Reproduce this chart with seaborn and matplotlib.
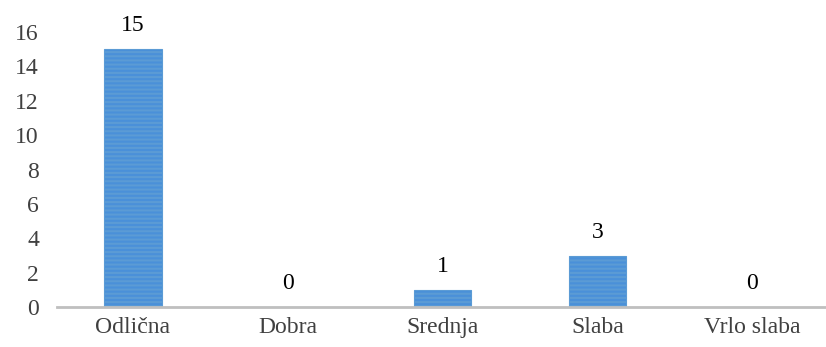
import matplotlib
matplotlib.use("Agg")
import matplotlib.pyplot as plt
import seaborn as sns
import pandas as pd

categories = ["Odlična", "Dobra", "Srednja", "Slaba", "Vrlo slaba"]
counts = [15, 0, 1, 3, 0]
y_ticks = [0, 2, 4, 6, 8, 10, 12, 14, 16]

df = pd.DataFrame({"kategorija": categories, "broj": counts})

sns.set_style("white")
plt.rcParams["font.family"] = ["Liberation Serif", "DejaVu Serif"]
plt.rcParams["hatch.color"] = "#B0D4F4"
plt.rcParams["hatch.linewidth"] = 1.5

fig = plt.figure(figsize=(8.26, 3.47), dpi=100)
ax = fig.add_axes([0.069, 0.115, 0.945, 0.793])

sns.barplot(data=df, x="kategorija", y="broj", ax=ax, color="#4A90D9",
            width=0.37, saturation=1, hatch="----", edgecolor="#5B9BD5",
            linewidth=0.8)

for i, v in enumerate(counts):
    ax.text(i, v + 0.75, str(v), ha="center", va="bottom", fontsize=17,
            color="#000000")

ax.set_ylim(0, 16)
ax.set_xlim(-0.49, 4.55)
ax.set_yticks(y_ticks)
ax.set_xlabel("")
ax.set_ylabel("")
ax.tick_params(axis="both", labelsize=17, colors="#404040", length=0)
ax.tick_params(axis="x", pad=7)
ax.tick_params(axis="y", pad=13)
for s in ["top", "right", "left"]:
    ax.spines[s].set_visible(False)
ax.spines["bottom"].set_color("#BFBFBF")
ax.spines["bottom"].set_linewidth(2)

fig.savefig("out.png", dpi=100)
